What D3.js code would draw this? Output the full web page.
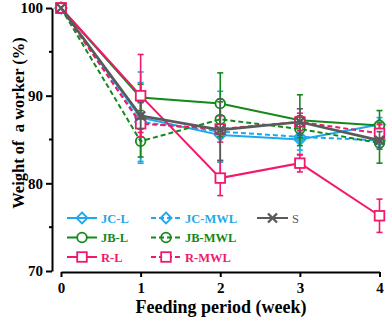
<!DOCTYPE html>
<html><head><meta charset="utf-8">
<script src="https://cdn.jsdelivr.net/npm/d3@7"></script>
<style>body{margin:0;background:#fff}svg{display:block}</style>
</head><body>
<svg id="c" width="387" height="320"></svg>
<script>
const weeks = [0, 1, 2, 3, 4];
const seriesNames = ["JC-L", "JC-MWL", "JB-L", "JB-MWL", "R-MWL", "R-L", "S"];
const jcL = [100, 87.5, 85.5, 85.0, 86.7];
const jcLErr = [0, 5.2, 5.0, 1.8, 0.8];
const jcMWL = [100, 87.0, 85.9, 85.3, 84.9];
const jcMWLErr = [0, 4.5, 3.5, 1.5, 0.8];
const jbL = [100, 89.8, 89.1, 87.2, 86.6];
const jbLErr = [0, 1.5, 3.5, 2.9, 1.7];
const jbMWL = [100, 84.8, 87.3, 86.2, 84.6];
const jbMWLErr = [0, 1.8, 2.0, 1.0, 2.3];
const rL = [100, 90.0, 80.6, 82.3, 76.3];
const rLErr = [0, 4.7, 2.0, 1.0, 1.9];
const rMWL = [100, 86.8, 86.2, 87.0, 85.7];
const rMWLErr = [0, 1.0, 1.5, 1.0, 1.0];
const sVals = [100, 87.7, 86.1, 87.0, 84.9];
const sErr = [0, 1.5, 3.5, 1.5, 1.0];
const yTicks = [70, 80, 90, 100];
const yMinor = [75, 85, 95];

const BLUE = "#1ea9ea", GREEN = "#14891a", PINK = "#f2186c", GREY = "#5a5a5a";
const series = [
  {name: "JC-L", v: jcL, e: jcLErr, c: BLUE, dash: null, m: "diamond", fill: "none"},
  {name: "JC-MWL", v: jcMWL, e: jcMWLErr, c: BLUE, dash: "5,3", m: "diamond", fill: "none"},
  {name: "JB-L", v: jbL, e: jbLErr, c: GREEN, dash: null, m: "circle", fill: "#fff"},
  {name: "JB-MWL", v: jbMWL, e: jbMWLErr, c: GREEN, dash: "5,3", m: "circle", fill: "none"},
  {name: "R-MWL", v: rMWL, e: rMWLErr, c: PINK, dash: "5,3", m: "square", fill: "#fff"},
  {name: "R-L", v: rL, e: rLErr, c: PINK, dash: null, m: "square", fill: "#fff"},
  {name: "S", v: sVals, e: sErr, c: GREY, dash: null, m: "x", fill: "none"}
];

const svg = d3.select("#c");
const x = d3.scaleLinear().domain([0, 4]).range([61, 379.5]);
const y = d3.scaleLinear().domain([70, 100]).range([271, 8]);
const FONT = "'Liberation Serif','Times New Roman',serif";

// y axis
const yAxis = svg.append("g").attr("transform", "translate(52,0)")
  .call(d3.axisLeft(y).tickValues(yTicks).tickFormat(d3.format("d")).tickSize(6).tickSizeOuter(0).tickPadding(3));
yAxis.select(".domain").attr("stroke-width", 2);
yAxis.selectAll(".tick line").attr("stroke-width", 2);
yAxis.selectAll("text").attr("font-family", FONT).attr("font-weight", "bold").attr("font-size", 15).attr("fill", "#000");
yAxis.append("g").selectAll("line").data(yMinor).join("line")
  .attr("x1", 0).attr("x2", -3).attr("y1", d => y(d)).attr("y2", d => y(d))
  .attr("stroke", "#000").attr("stroke-width", 2);

// x axis
const xAxis = svg.append("g").attr("transform", "translate(0,272)")
  .call(d3.axisBottom(x).tickValues(weeks).tickFormat(d3.format("d")).tickSize(5).tickSizeOuter(0).tickPadding(5));
xAxis.select(".domain").attr("stroke-width", 2);
xAxis.selectAll(".tick line").attr("stroke-width", 2);
xAxis.selectAll("text").attr("font-family", FONT).attr("font-weight", "bold").attr("font-size", 15).attr("fill", "#000");

svg.append("text").attr("x", 221).attr("y", 313).attr("text-anchor", "middle")
  .attr("font-family", FONT).attr("font-weight", "bold").attr("font-size", 18).text("Feeding period (week)");
svg.append("text").attr("transform", "translate(24,123) rotate(-90)").attr("text-anchor", "middle")
  .attr("font-family", FONT).attr("font-weight", "bold").attr("font-size", 16.5)
  .attr("xml:space", "preserve").style("white-space", "pre").text("Weight of  a worker (%)");

function marker(g, type, cx, cy, color, fill) {
  if (type === "circle") {
    g.append("circle").attr("cx", cx).attr("cy", cy).attr("r", 4.8).attr("fill", fill).attr("stroke", color).attr("stroke-width", 1.8);
  } else if (type === "square") {
    g.append("rect").attr("x", cx - 4.8).attr("y", cy - 4.8).attr("width", 9.6).attr("height", 9.6).attr("fill", fill).attr("stroke", color).attr("stroke-width", 1.8);
  } else if (type === "diamond") {
    const r = 5.5;
    g.append("path").attr("d", `M${cx},${cy - r}L${cx + r},${cy}L${cx},${cy + r}L${cx - r},${cy}Z`).attr("fill", fill).attr("stroke", color).attr("stroke-width", 1.8);
  } else if (type === "x") {
    const r = 4.5;
    g.append("path").attr("d", `M${cx - r},${cy - r}L${cx + r},${cy + r}M${cx - r},${cy + r}L${cx + r},${cy - r}`).attr("stroke", color).attr("stroke-width", 2.4);
  }
}

const line = d3.line().x((d, i) => x(weeks[i])).y(d => y(d));
series.forEach(s => {
  const g = svg.append("g");
  s.v.forEach((v, i) => {
    if (!s.e[i]) return;
    const cx = x(weeks[i]);
    const t = y(v + s.e[i]), b = y(v - s.e[i]);
    g.append("line").attr("x1", cx).attr("x2", cx).attr("y1", t).attr("y2", b).attr("stroke", s.c).attr("stroke-width", 1.6);
    [t, b].forEach(yy => g.append("line").attr("x1", cx - 3).attr("x2", cx + 3).attr("y1", yy).attr("y2", yy).attr("stroke", s.c).attr("stroke-width", 1.6));
  });
  g.append("path").attr("d", line(s.v)).attr("fill", "none").attr("stroke", s.c)
    .attr("stroke-width", s.name === "S" ? 2.6 : 2).attr("stroke-dasharray", s.dash);
  s.v.forEach((v, i) => marker(g, s.m, x(weeks[i]), y(v), s.c, s.fill));
});

// legend
const legendPos = {
  "JC-L": [67, 218], "JB-L": [67, 237.5], "R-L": [67, 257],
  "JC-MWL": [151, 218], "JB-MWL": [151, 237.5], "R-MWL": [151, 257],
  "S": [257, 218]
};
seriesNames.forEach(n => {
  const s = series.find(d => d.name === n);
  const [lx, ly] = legendPos[n];
  const g = svg.append("g");
  const w = n === "S" ? 31 : 30;
  g.append("line").attr("x1", lx).attr("x2", lx + w).attr("y1", ly).attr("y2", ly)
    .attr("stroke", s.c).attr("stroke-width", 2).attr("stroke-dasharray", s.dash);
  marker(g, s.m, lx + w / 2, ly, s.c, s.fill);
  g.append("text").attr("x", lx + w + 4).attr("y", ly + 4.5)
    .attr("font-family", FONT).attr("font-weight", n === "S" ? "normal" : "bold")
    .attr("font-size", 12.5).attr("fill", s.c).text(n);
});
</script>
</body></html>
